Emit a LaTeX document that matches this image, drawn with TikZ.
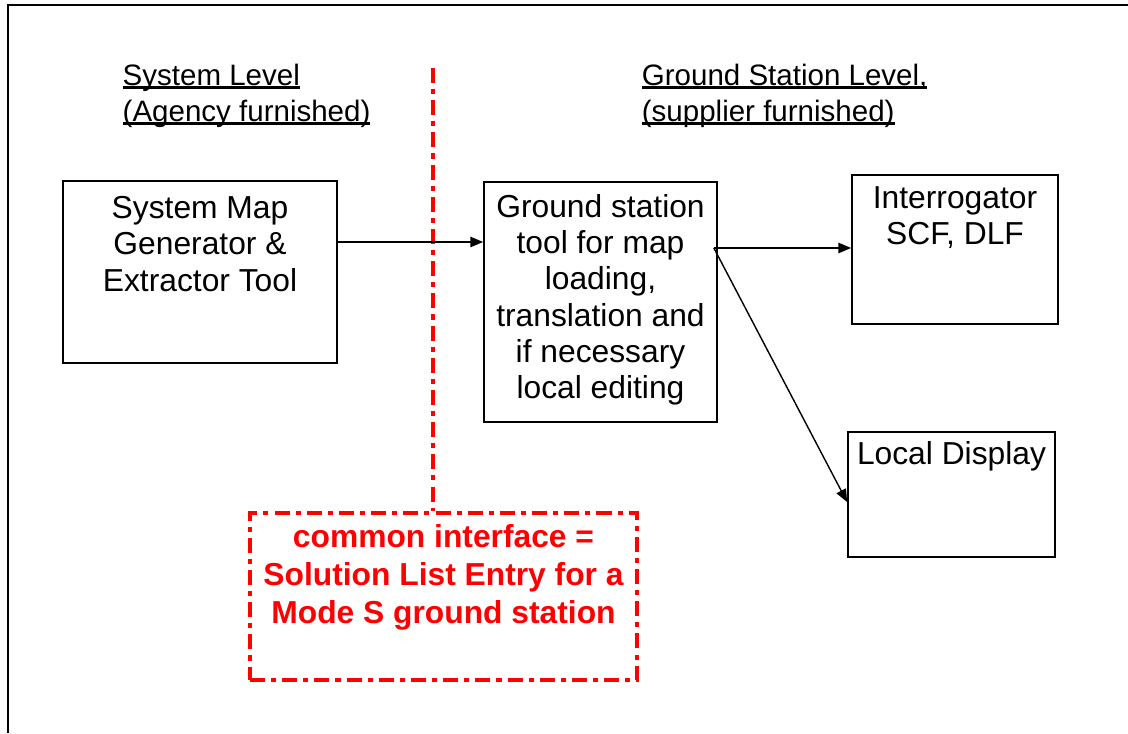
\documentclass[tikz,border=0pt]{standalone}
\usepackage{fontspec}
\setmainfont{Liberation Sans}
\usetikzlibrary{arrows.meta,positioning}

\newcommand{\undl}[1]{\sbox0{#1}\rlap{\rule[-0.135em]{\wd0}{0.09em}}\usebox0}

\begin{document}
\begin{tikzpicture}[
        >={Triangle[length=3.2mm,width=2.6mm]},
        block/.style={draw,line width=1.2pt,inner sep=0pt},
        blocktext/.style={anchor=north,align=center,inner sep=0pt,
            font=\fontsize{22.6}{25.75}\selectfont},
        head/.style={anchor=north west,align=left,inner sep=0pt,
            font=\fontsize{21}{25.6}\selectfont},
        link/.style={->,line width=1pt},
        divider/.style={draw=red,line width=2.8pt,
            dash pattern=on 10.7pt off 4.3pt on 3.6pt off 4.3pt}]
\useasboundingbox (0,0) rectangle (28.2,18.325);

% page frame
\draw[line width=2.1pt] (0.2,0) -- (0.2,18.2) -- (28.2,18.2);

% headings
\node[head] (syslvl) at (3.06,16.74) {\undl{System Level}\\\undl{(Agency furnished)}};
\node[head] (gslvl) at (16.04,16.74) {\undl{Ground Station Level,}\\\undl{(supplier furnished)}};

% tools
\node[block,minimum width=6.85cm,minimum height=4.55cm,
    label={[blocktext,yshift=-0.4cm]north:System Map\\Generator \&\\Extractor Tool}]
    (gen) at (5,11.525) {};
\node[block,minimum width=5.825cm,minimum height=6cm,
    label={[blocktext,yshift=-0.325cm]north:Ground station\\tool for map\\loading,\\translation and\\if necessary\\local editing}]
    (gst) at (15.0125,10.775) {};
\node[block,minimum width=5.15cm,minimum height=3.725cm,
    label={[blocktext,yshift=-0.3cm]north:Interrogator\\SCF, DLF}]
    (intg) at (23.875,12.0875) {};
\node[block,minimum width=5.175cm,minimum height=3.125cm,
    label={[blocktext,yshift=-0.25cm]north:Local Display}]
    (disp) at (23.7875,5.9625) {};

% common interface
\node[divider,inner sep=0pt,minimum width=9.675cm,minimum height=4.175cm,
    label={[blocktext,text=red,font=\fontsize{22.6}{26.7}\selectfont\bfseries,yshift=-0.34cm]north:common interface =\\Solution List Entry for a\\Mode S ground station}]
    (iface) at (11.0875,3.4125) {};
\coordinate (divtop) at (10.825,16.625);
\draw[divider] (divtop) -- (divtop |- iface.north);

% data flow
\draw[link] ([yshift=0.75cm]gen.east) -- ([yshift=0.75cm]gen.east -| gst.west);
\coordinate (split) at ([xshift=-0.1cm,yshift=1.35cm]gst.east);
\draw[link] (split) -- (split -| intg.west);
\draw[link] (split) -- ([yshift=-0.19cm]disp.west);

\end{tikzpicture}
\end{document}
